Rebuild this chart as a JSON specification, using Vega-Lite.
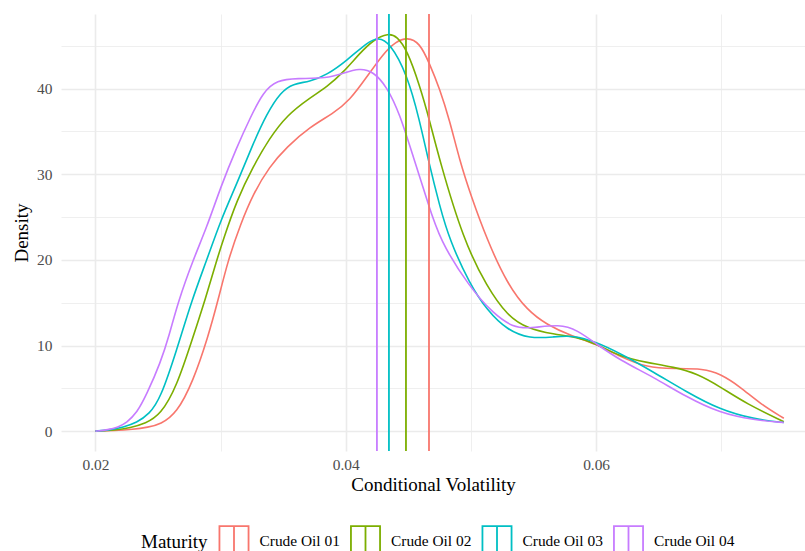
{
  "$schema": "https://vega.github.io/schema/vega-lite/v6.json",
  "width": 744,
  "height": 437,
  "autosize": {"type": "none"},
  "padding": {"left": 61, "top": 14, "right": 0, "bottom": 100},
  "config": {
    "font": "Liberation Serif",
    "view": {"stroke": null},
    "axis": {
      "domain": false,
      "ticks": false,
      "gridColor": "#EBEBEB",
      "labelColor": "#4D4D4D",
      "labelFontSize": 15.4,
      "titleFontSize": 19,
      "titleFontWeight": "normal",
      "titleColor": "#000000",
      "labelFont": "Liberation Serif",
      "titleFont": "Liberation Serif"
    },
    "legend": {
      "labelFont": "Liberation Serif",
      "titleFont": "Liberation Serif"
    }
  },
  "datasets": {
    "curves": [
      {"series": "Crude Oil 01", "x": 0.0200, "y": 0},
      {"series": "Crude Oil 01", "x": 0.0215, "y": 0.05},
      {"series": "Crude Oil 01", "x": 0.0230, "y": 0.2},
      {"series": "Crude Oil 01", "x": 0.0242, "y": 0.45},
      {"series": "Crude Oil 01", "x": 0.0252, "y": 0.8},
      {"series": "Crude Oil 01", "x": 0.0265, "y": 2.1},
      {"series": "Crude Oil 01", "x": 0.0278, "y": 5.8},
      {"series": "Crude Oil 01", "x": 0.0290, "y": 11.0},
      {"series": "Crude Oil 01", "x": 0.0298, "y": 15.3},
      {"series": "Crude Oil 01", "x": 0.0306, "y": 20.0},
      {"series": "Crude Oil 01", "x": 0.0316, "y": 24.2},
      {"series": "Crude Oil 01", "x": 0.0326, "y": 27.7},
      {"series": "Crude Oil 01", "x": 0.0339, "y": 30.9},
      {"series": "Crude Oil 01", "x": 0.0353, "y": 33.2},
      {"series": "Crude Oil 01", "x": 0.0371, "y": 35.5},
      {"series": "Crude Oil 01", "x": 0.0390, "y": 37.1},
      {"series": "Crude Oil 01", "x": 0.0403, "y": 38.6},
      {"series": "Crude Oil 01", "x": 0.0417, "y": 41.4},
      {"series": "Crude Oil 01", "x": 0.0430, "y": 44.1},
      {"series": "Crude Oil 01", "x": 0.0440, "y": 45.5},
      {"series": "Crude Oil 01", "x": 0.0449, "y": 46.0},
      {"series": "Crude Oil 01", "x": 0.0459, "y": 45.4},
      {"series": "Crude Oil 01", "x": 0.0467, "y": 42.9},
      {"series": "Crude Oil 01", "x": 0.0475, "y": 40.0},
      {"series": "Crude Oil 01", "x": 0.0483, "y": 36.3},
      {"series": "Crude Oil 01", "x": 0.0491, "y": 31.6},
      {"series": "Crude Oil 01", "x": 0.0500, "y": 27.5},
      {"series": "Crude Oil 01", "x": 0.0513, "y": 22.3},
      {"series": "Crude Oil 01", "x": 0.0529, "y": 17.2},
      {"series": "Crude Oil 01", "x": 0.0545, "y": 14.1},
      {"series": "Crude Oil 01", "x": 0.0561, "y": 12.4},
      {"series": "Crude Oil 01", "x": 0.0579, "y": 11.2},
      {"series": "Crude Oil 01", "x": 0.0600, "y": 10.2},
      {"series": "Crude Oil 01", "x": 0.0619, "y": 8.7},
      {"series": "Crude Oil 01", "x": 0.0641, "y": 7.4},
      {"series": "Crude Oil 01", "x": 0.0662, "y": 7.3},
      {"series": "Crude Oil 01", "x": 0.0686, "y": 7.3},
      {"series": "Crude Oil 01", "x": 0.0699, "y": 6.7},
      {"series": "Crude Oil 01", "x": 0.0715, "y": 5.2},
      {"series": "Crude Oil 01", "x": 0.0731, "y": 3.2},
      {"series": "Crude Oil 01", "x": 0.0750, "y": 1.5},

      {"series": "Crude Oil 02", "x": 0.0200, "y": 0},
      {"series": "Crude Oil 02", "x": 0.0215, "y": 0.1},
      {"series": "Crude Oil 02", "x": 0.0228, "y": 0.4},
      {"series": "Crude Oil 02", "x": 0.0240, "y": 0.9},
      {"series": "Crude Oil 02", "x": 0.0252, "y": 1.9},
      {"series": "Crude Oil 02", "x": 0.0265, "y": 5.2},
      {"series": "Crude Oil 02", "x": 0.0278, "y": 11.0},
      {"series": "Crude Oil 02", "x": 0.0288, "y": 15.5},
      {"series": "Crude Oil 02", "x": 0.0297, "y": 20.0},
      {"series": "Crude Oil 02", "x": 0.0302, "y": 22.3},
      {"series": "Crude Oil 02", "x": 0.0313, "y": 27.0},
      {"series": "Crude Oil 02", "x": 0.0326, "y": 30.9},
      {"series": "Crude Oil 02", "x": 0.0339, "y": 34.2},
      {"series": "Crude Oil 02", "x": 0.0353, "y": 36.9},
      {"series": "Crude Oil 02", "x": 0.0371, "y": 38.9},
      {"series": "Crude Oil 02", "x": 0.0385, "y": 40.2},
      {"series": "Crude Oil 02", "x": 0.0398, "y": 41.9},
      {"series": "Crude Oil 02", "x": 0.0411, "y": 44.1},
      {"series": "Crude Oil 02", "x": 0.0422, "y": 45.7},
      {"series": "Crude Oil 02", "x": 0.0434, "y": 46.5},
      {"series": "Crude Oil 02", "x": 0.0441, "y": 46.1},
      {"series": "Crude Oil 02", "x": 0.0449, "y": 44.5},
      {"series": "Crude Oil 02", "x": 0.0459, "y": 40.4},
      {"series": "Crude Oil 02", "x": 0.0467, "y": 36.3},
      {"series": "Crude Oil 02", "x": 0.0475, "y": 31.6},
      {"series": "Crude Oil 02", "x": 0.0494, "y": 22.3},
      {"series": "Crude Oil 02", "x": 0.0513, "y": 16.8},
      {"series": "Crude Oil 02", "x": 0.0529, "y": 13.5},
      {"series": "Crude Oil 02", "x": 0.0545, "y": 12.0},
      {"series": "Crude Oil 02", "x": 0.0566, "y": 11.3},
      {"series": "Crude Oil 02", "x": 0.0585, "y": 11.0},
      {"series": "Crude Oil 02", "x": 0.0600, "y": 10.2},
      {"series": "Crude Oil 02", "x": 0.0619, "y": 8.7},
      {"series": "Crude Oil 02", "x": 0.0641, "y": 8.0},
      {"series": "Crude Oil 02", "x": 0.0662, "y": 7.5},
      {"series": "Crude Oil 02", "x": 0.0681, "y": 6.7},
      {"series": "Crude Oil 02", "x": 0.0699, "y": 5.2},
      {"series": "Crude Oil 02", "x": 0.0720, "y": 3.2},
      {"series": "Crude Oil 02", "x": 0.0750, "y": 1.1},

      {"series": "Crude Oil 03", "x": 0.0200, "y": 0},
      {"series": "Crude Oil 03", "x": 0.0212, "y": 0.15},
      {"series": "Crude Oil 03", "x": 0.0222, "y": 0.45},
      {"series": "Crude Oil 03", "x": 0.0233, "y": 1.0},
      {"series": "Crude Oil 03", "x": 0.0243, "y": 2.0},
      {"series": "Crude Oil 03", "x": 0.0252, "y": 3.8},
      {"series": "Crude Oil 03", "x": 0.0265, "y": 9.5},
      {"series": "Crude Oil 03", "x": 0.0277, "y": 15.3},
      {"series": "Crude Oil 03", "x": 0.0289, "y": 20.0},
      {"series": "Crude Oil 03", "x": 0.0300, "y": 24.6},
      {"series": "Crude Oil 03", "x": 0.0313, "y": 28.9},
      {"series": "Crude Oil 03", "x": 0.0326, "y": 33.6},
      {"series": "Crude Oil 03", "x": 0.0337, "y": 37.1},
      {"series": "Crude Oil 03", "x": 0.0348, "y": 39.6},
      {"series": "Crude Oil 03", "x": 0.0358, "y": 40.6},
      {"series": "Crude Oil 03", "x": 0.0371, "y": 40.8},
      {"series": "Crude Oil 03", "x": 0.0385, "y": 41.6},
      {"series": "Crude Oil 03", "x": 0.0401, "y": 43.3},
      {"series": "Crude Oil 03", "x": 0.0417, "y": 45.4},
      {"series": "Crude Oil 03", "x": 0.0426, "y": 46.0},
      {"series": "Crude Oil 03", "x": 0.0435, "y": 45.4},
      {"series": "Crude Oil 03", "x": 0.0449, "y": 41.7},
      {"series": "Crude Oil 03", "x": 0.0459, "y": 36.3},
      {"series": "Crude Oil 03", "x": 0.0466, "y": 31.6},
      {"series": "Crude Oil 03", "x": 0.0475, "y": 26.3},
      {"series": "Crude Oil 03", "x": 0.0483, "y": 22.3},
      {"series": "Crude Oil 03", "x": 0.0499, "y": 17.2},
      {"series": "Crude Oil 03", "x": 0.0513, "y": 14.1},
      {"series": "Crude Oil 03", "x": 0.0529, "y": 11.8},
      {"series": "Crude Oil 03", "x": 0.0547, "y": 10.8},
      {"series": "Crude Oil 03", "x": 0.0566, "y": 11.0},
      {"series": "Crude Oil 03", "x": 0.0582, "y": 11.2},
      {"series": "Crude Oil 03", "x": 0.0600, "y": 10.4},
      {"series": "Crude Oil 03", "x": 0.0619, "y": 9.1},
      {"series": "Crude Oil 03", "x": 0.0646, "y": 6.9},
      {"series": "Crude Oil 03", "x": 0.0672, "y": 4.6},
      {"series": "Crude Oil 03", "x": 0.0699, "y": 2.5},
      {"series": "Crude Oil 03", "x": 0.0726, "y": 1.4},
      {"series": "Crude Oil 03", "x": 0.0750, "y": 1.0},

      {"series": "Crude Oil 04", "x": 0.0200, "y": 0},
      {"series": "Crude Oil 04", "x": 0.0210, "y": 0.15},
      {"series": "Crude Oil 04", "x": 0.0218, "y": 0.45},
      {"series": "Crude Oil 04", "x": 0.0225, "y": 1.0},
      {"series": "Crude Oil 04", "x": 0.0233, "y": 2.1},
      {"series": "Crude Oil 04", "x": 0.0241, "y": 4.3},
      {"series": "Crude Oil 04", "x": 0.0252, "y": 8.0},
      {"series": "Crude Oil 04", "x": 0.0259, "y": 11.2},
      {"series": "Crude Oil 04", "x": 0.0266, "y": 15.1},
      {"series": "Crude Oil 04", "x": 0.0278, "y": 20.0},
      {"series": "Crude Oil 04", "x": 0.0289, "y": 23.8},
      {"series": "Crude Oil 04", "x": 0.0300, "y": 28.5},
      {"series": "Crude Oil 04", "x": 0.0313, "y": 33.2},
      {"series": "Crude Oil 04", "x": 0.0324, "y": 36.7},
      {"series": "Crude Oil 04", "x": 0.0334, "y": 39.6},
      {"series": "Crude Oil 04", "x": 0.0345, "y": 41.0},
      {"series": "Crude Oil 04", "x": 0.0361, "y": 41.2},
      {"series": "Crude Oil 04", "x": 0.0385, "y": 41.2},
      {"series": "Crude Oil 04", "x": 0.0398, "y": 41.8},
      {"series": "Crude Oil 04", "x": 0.0411, "y": 42.4},
      {"series": "Crude Oil 04", "x": 0.0422, "y": 42.0},
      {"series": "Crude Oil 04", "x": 0.0433, "y": 40.2},
      {"series": "Crude Oil 04", "x": 0.0443, "y": 37.1},
      {"series": "Crude Oil 04", "x": 0.0454, "y": 32.0},
      {"series": "Crude Oil 04", "x": 0.0465, "y": 27.0},
      {"series": "Crude Oil 04", "x": 0.0475, "y": 22.3},
      {"series": "Crude Oil 04", "x": 0.0499, "y": 16.8},
      {"series": "Crude Oil 04", "x": 0.0518, "y": 13.7},
      {"series": "Crude Oil 04", "x": 0.0534, "y": 12.1},
      {"series": "Crude Oil 04", "x": 0.0547, "y": 12.0},
      {"series": "Crude Oil 04", "x": 0.0571, "y": 12.5},
      {"series": "Crude Oil 04", "x": 0.0585, "y": 11.8},
      {"series": "Crude Oil 04", "x": 0.0600, "y": 10.2},
      {"series": "Crude Oil 04", "x": 0.0619, "y": 8.3},
      {"series": "Crude Oil 04", "x": 0.0646, "y": 6.3},
      {"series": "Crude Oil 04", "x": 0.0672, "y": 4.0},
      {"series": "Crude Oil 04", "x": 0.0699, "y": 2.1},
      {"series": "Crude Oil 04", "x": 0.0726, "y": 1.3},
      {"series": "Crude Oil 04", "x": 0.0750, "y": 1.0}
    ],
    "means": [
      {"series": "Crude Oil 01", "mean": 0.04665},
      {"series": "Crude Oil 02", "mean": 0.04481},
      {"series": "Crude Oil 03", "mean": 0.04345},
      {"series": "Crude Oil 04", "mean": 0.04249}
    ]
  },
  "layer": [
    {
      "data": {"name": "curves"},
      "mark": {"type": "line", "interpolate": "basis", "strokeWidth": 1.6, "clip": true},
      "encoding": {
        "x": {
          "field": "x", "type": "quantitative",
          "scale": {"domain": [0.01725, 0.07669], "nice": false, "zero": false},
          "axis": {
            "title": "Conditional Volatility",
            "values": [0.02, 0.03, 0.04, 0.05, 0.06, 0.07],
            "labelExpr": "indexof(['0.02','0.04','0.06'], format(datum.value, '.2f')) >= 0 ? format(datum.value, '.2f') : ''",
            "gridWidth": {"condition": {"test": "indexof(['0.02','0.04','0.06'], format(datum.value, '.2f')) >= 0", "value": 1.6}, "value": 0.8},
            "labelPadding": 6,
            "titlePadding": 3
          }
        },
        "y": {
          "field": "y", "type": "quantitative",
          "scale": {"domain": [-2.32, 48.72], "nice": false, "zero": false},
          "axis": {
            "title": "Density",
            "values": [0, 5, 10, 15, 20, 25, 30, 35, 40, 45],
            "labelExpr": "datum.value % 10 == 0 ? datum.label : ''",
            "gridWidth": {"condition": {"test": "datum.value % 10 == 0", "value": 1.6}, "value": 0.8},
            "labelPadding": 9,
            "titlePadding": 5
          }
        },
        "color": {
          "field": "series", "type": "nominal",
          "scale": {"domain": ["Crude Oil 01", "Crude Oil 02", "Crude Oil 03", "Crude Oil 04"], "range": ["#F8766D", "#7CAE00", "#00BFC4", "#C77CFF"]},
          "legend": {
            "title": "Maturity",
            "orient": "none",
            "direction": "horizontal",
            "columns": 4,
            "legendX": 80,
            "legendY": 511,
            "titleOrient": "left",
            "titleFontSize": 19,
            "titleFontWeight": "normal",
            "titleColor": "#000000",
            "titlePadding": 10,
            "titleBaseline": "middle",
            "labelFontSize": 15.4,
            "labelColor": "#000000",
            "labelOffset": 9.5,
            "columnPadding": 6.5,
            "symbolType": "M-0.97,-1H0.97V1H-0.97ZM0,-1V1",
            "symbolSize": 900,
            "symbolStrokeWidth": 1.8,
            "symbolFillColor": "transparent"
          }
        }
      }
    },
    {
      "data": {"name": "means"},
      "mark": {"type": "rule", "strokeWidth": 1.8},
      "encoding": {
        "x": {"field": "mean", "type": "quantitative"},
        "color": {"field": "series", "type": "nominal"}
      }
    }
  ]
}
